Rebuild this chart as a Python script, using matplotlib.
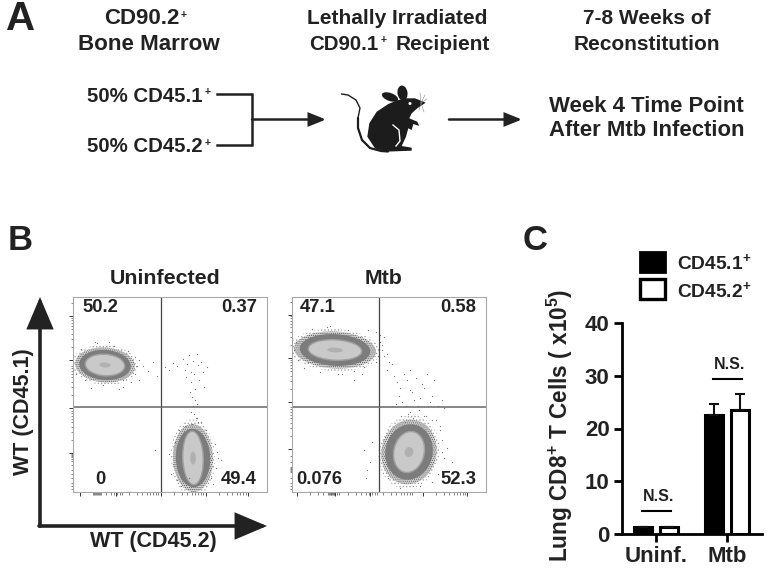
import matplotlib
matplotlib.use("Agg")
import matplotlib.pyplot as plt
from matplotlib.patches import Ellipse, Polygon, Rectangle

plt.rcParams['font.family'] = ['Liberation Sans', 'DejaVu Sans']
plt.rcParams['font.weight'] = 'bold'
plt.rcParams['mathtext.fontset'] = 'custom'
plt.rcParams['mathtext.bf'] = 'Liberation Sans:bold'
plt.rcParams['mathtext.rm'] = 'Liberation Sans:bold'
plt.rcParams['mathtext.default'] = 'bf'
plt.rcParams['hatch.linewidth'] = 0.5

W, H = 768, 568
INK = "#222222"

# panel C values
groups = ["Uninf.", "Mtb"]
cd451_mean = [1.4, 22.5]
cd452_mean = [1.4, 23.6]
cd451_err = [0.0, 2.1]
cd452_err = [0.0, 3.0]
ns_height = [4.4, 29.4]
y_ticks = [0, 10, 20, 30, 40]

# panel B populations: centre, fuzz size, core size, tilt (gate units)
uninf_cx = [32, 120]
uninf_cy = [127, 34]
uninf_w = [60, 40]
uninf_h = [35, 68]
uninf_core_w = [38, 19]
uninf_core_h = [20, 52]
uninf_tilt = [-4, 2]

mtb_cx = [43, 117]
mtb_cy = [142, 40]
mtb_w = [82, 55]
mtb_h = [37, 65]
mtb_core_w = [52, 29]
mtb_core_h = [19, 40]
mtb_tilt = [-3, -12]

uninf_gate = (88, 85)
mtb_gate = (87, 85)
uninf_labels = ["50.2", "0.37", "0", "49.4"]
mtb_labels = ["47.1", "0.58", "0.076", "52.3"]

# axis ticks of the two dot plots
uninf_major_x = [7, 43, 88, 133, 175]
uninf_major_y = [39, 84, 132, 176]
mtb_major_x = [5, 43, 78, 131, 175]
mtb_major_y = [43, 90, 134, 177]
uninf_cluster_x = [21, 22, 23, 24, 25, 26, 27]
uninf_cluster_y = [3, 6, 9, 14, 18, 22, 27, 31, 33, 35, 36, 37, 38]
mtb_cluster_x = [37, 38, 39, 40, 41, 42]
mtb_cluster_y = [3, 6, 9, 14, 20, 21, 22, 23, 24, 25, 30, 36]
minor_step = [13, 21, 26, 31, 34, 37, 40, 42]

# stray events
uninf_dots_x = [100, 104, 110, 112, 114, 116, 118, 118, 120, 121, 122, 124, 125, 126, 128, 130, 131, 134, 113, 117,
                119, 122, 124, 120, 118, 121, 123, 70, 75, 80, 84, 92, 96, 66, 62, 58, 41, 50, 18, 22, 30, 46, 125, 119, 144, 148, 82, 116,
                0, 3, 5, 62, 66, 64, 8, 12, 55, 50, 36, 24, 96, 100, 98, 142, 143, 145, 138, 140, 102, 104, 108, 106, 128, 133, 112, 124]
uninf_dots_y = [129, 126, 133, 122, 128, 137, 120, 110, 131, 118, 103, 138, 127, 112, 130, 120, 105, 125, 115, 100,
                95, 92, 88, 86, 80, 78, 74, 126, 121, 130, 116, 125, 122, 112, 135, 110, 146, 105, 104, 150, 107, 103, 70, 68, 40, 32, 42, 14,
                128, 118, 136, 118, 132, 126, 143, 112, 141, 112, 150, 149, 38, 28, 18, 48, 24, 34, 14, 8, 50, 12, 6, 62, 70, 62, 66, 74]
mtb_dots_x = [88, 90, 92, 95, 97, 100, 95, 102, 105, 108, 107, 112, 115, 118, 120, 124, 128, 130, 135, 140, 142, 146, 150, 152,
              110, 114, 116, 118, 122, 126, 132, 138, 104, 109, 113, 121, 127, 134, 144, 148, 78, 75, 72, 74, 80, 155, 160, 70, 62, 50, 35,
              2, 4, 6, 88, 90, 84, 92, 86, 12, 28, 46, 62, 72, 20, 38, 56, 84, 76, 150, 152, 146, 148, 140, 96, 108, 128, 140, 132, 118, 150]
mtb_dots_y = [150, 142, 136, 138, 130, 128, 122, 116, 110, 104, 96, 118, 112, 122, 100, 114, 94, 108, 118, 96, 112, 86, 92, 84,
              90, 86, 78, 102, 92, 86, 104, 90, 88, 76, 70, 74, 82, 76, 72, 66, 30, 22, 42, 14, 50, 44, 30, 118, 112, 118, 165,
              142, 150, 132, 157, 147, 160, 155, 136, 124, 120, 118, 121, 125, 163, 166, 162, 130, 162, 52, 34, 18, 62, 10, 14, 4, 6, 72, 76, 80, 40]

# mouse outline for panel A, in figure pixels
mouse_x = [425.7, 417.3, 411.7, 409.3, 417.3, 419.3, 413.3, 411.7, 408.3, 406, 401.7, 411.7, 411.7, 385, 375, 367.3, 369.3, 376.7, 388.3, 398.3, 406.7, 415]
mouse_y = [102.7, 108.3, 113.3, 118.3, 121.7, 126, 124, 130, 128.3, 136.7, 146, 147.7, 150.7, 151.7, 148.3, 136.7, 123.3, 111.7, 104, 100, 98.3, 98.3]
tail_x = [341.7, 348, 356, 360, 358, 358, 362, 370, 381, 388]
tail_y = [94, 95, 100, 108, 118, 128, 140, 148, 151, 151.5]

fig = plt.figure(figsize=(W / 100, H / 100), dpi=100)


def axes_px(left, top, right, bottom):
    return fig.add_axes([left / W, 1 - bottom / H, (right - left) / W, (bottom - top) / H])


ov = axes_px(0, 0, W, H)
ov.set_xlim(0, W)
ov.set_ylim(H, 0)
ov.axis("off")


def arrow(start, tip, lw, length, half):
    ov.annotate("", xy=tip, xytext=start, color=INK,
                arrowprops=dict(arrowstyle=f"-|>,head_length={length},head_width={half}", lw=lw, color=INK,
                                mutation_scale=1, shrinkA=0, shrinkB=0, joinstyle="miter"))


# panel letters
ov.text(20.5, 19.5, "A", fontsize=29, color=INK, ha="center", va="center")
ov.text(20, 241, "B", fontsize=25, color=INK, ha="center", va="center")
ov.text(535, 241, "C", fontsize=25, color=INK, ha="center", va="center")

# panel A text
for x, y, s, size in [(141.5, 19, "CD90.2", 16), (149, 44, "Bone Marrow", 16.1), (397.5, 19, "Lethally Irradiated", 15),
                      (646.5, 19, "7-8 Weeks of", 15), (646.5, 44, "Reconstitution", 15), (646.5, 106, "Week 4 Time Point", 15.9),
                      (646.5, 130, "After Mtb Infection", 15.9), (144.5, 97, "50% CD45.1", 14.7), (144.5, 147, "50% CD45.2", 14.7),
                      (343.5, 44, "CD90.1", 14.7), (442.5, 44, "Recipient", 15)]:
    ov.text(x, y, s, fontsize=size, color=INK, ha="center", va="center")
for x, y in [(183.5, 15), (383.5, 39.5), (208, 92), (208, 143)]:
    ov.text(x, y, "+", fontsize=7.5, color=INK, ha="center", va="center")

ov.plot([217, 252, 252, 217], [94, 94, 145, 145], color=INK, lw=1.8, solid_joinstyle="miter")
arrow((252, 119.5), (326, 119.5), 1.8, 10, 4)
arrow((449, 119.5), (522, 119.5), 1.8, 10, 4)

# mouse
ov.add_patch(Polygon(list(zip(mouse_x, mouse_y)), closed=True, color="#1c1c1c", lw=0))
ov.add_patch(Ellipse((402.5, 93), 10, 15, angle=-8, color="#1c1c1c", lw=0))
ov.add_patch(Ellipse((390, 97), 17, 8, angle=20, color="#1c1c1c", lw=0))
ov.plot(tail_x[:5], tail_y[:5], color="#1c1c1c", lw=1)
ov.plot(tail_x[4:], tail_y[4:], color="#1c1c1c", lw=1.6, solid_capstyle="round")
ov.plot([393, 399, 400, 396], [125, 130, 141, 146], color="white", lw=1)
ov.add_patch(Ellipse((410, 103.5), 3, 3, color="white", lw=0))
for wx, wy in [(420, 93), (425, 95), (427, 99), (424, 112), (419, 110)]:
    ov.plot([421, wx], [103, wy], color="#888888", lw=0.4)

# panel B axis arrows and labels
arrow((40, 526), (40, 297), 2.6, 26 * 0.72, 11 * 0.72)
arrow((39, 526), (267, 526), 2.6, 26 * 0.72, 11 * 0.72)
ov.text(23, 412, "WT (CD45.1)", fontsize=15.5, color=INK, rotation=90, ha="center", va="center")
ov.text(153, 542, "WT (CD45.2)", fontsize=15.5, color=INK, ha="center", va="center")
ov.text(165, 279, "Uninfected", fontsize=15.4, color=INK, ha="center", va="center")
ov.text(384, 279, "Mtb", fontsize=15.4, color=INK, ha="center", va="center")


def flow_panel(box, gate, cx, cy, w, h, core_w, core_h, tilt, dots_x, dots_y, major_x, major_y, cluster_x, cluster_y):
    ax = axes_px(*box)
    ax.set_xlim(0, box[2] - box[0])
    ax.set_ylim(0, box[3] - box[1])
    ax.patch.set_alpha(0)
    for spine in ax.spines.values():
        spine.set_color("#a8a8a8")
        spine.set_linewidth(0.8)
    ax.set_xticks(major_x)
    ax.set_yticks(major_y)
    ax.set_xticks(cluster_x + [m + d for m in major_x[:-1] for d in minor_step if m + d < 194], minor=True)
    ax.set_yticks(cluster_y + [m + d for m in major_y for d in minor_step if m + d < 195], minor=True)
    ax.set_xticklabels([])
    ax.set_yticklabels([])
    ax.tick_params(which="major", length=3, width=0.7, color="#333333")
    ax.tick_params(which="minor", length=1.8, width=0.5, color="#555555")
    for i in range(len(cx)):
        xy = (cx[i], cy[i])
        ax.add_patch(Ellipse(xy, w[i] * 1.1, h[i] * 1.14, angle=tilt[i], facecolor="none", edgecolor="#9a9a9a", hatch=".....", lw=0))
        ax.add_patch(Ellipse(xy, w[i], h[i], angle=tilt[i], facecolor="#d0d0d0", edgecolor="#5a5a5a", hatch="........", lw=0))
        ax.add_patch(Ellipse(xy, w[i] * 0.86, h[i] * 0.86, angle=tilt[i], facecolor="#7c7c7c", lw=0))
        ax.add_patch(Ellipse(xy, core_w[i] + 3, core_h[i] + 3, angle=tilt[i], facecolor="#a0a0a0", lw=0))
        ax.add_patch(Ellipse(xy, core_w[i], core_h[i], angle=tilt[i], facecolor="#c9c9c9", lw=0))
        ax.add_patch(Ellipse(xy, core_w[i] * 0.3, core_h[i] * 0.25, angle=tilt[i], facecolor="#b0b0b0", lw=0))
    ax.scatter(dots_x, dots_y, s=0.8, color="#707070", lw=0)
    ax.axvline(gate[0], color="#444444", lw=0.9)
    ax.axhline(gate[1], color="#666666", lw=1.1)
    return ax


ax1 = flow_panel((73, 297, 267, 492), uninf_gate, uninf_cx, uninf_cy, uninf_w, uninf_h, uninf_core_w, uninf_core_h,
                 uninf_tilt, uninf_dots_x, uninf_dots_y, uninf_major_x, uninf_major_y, uninf_cluster_x, uninf_cluster_y)
ax2 = flow_panel((292, 297, 486, 492), mtb_gate, mtb_cx, mtb_cy, mtb_w, mtb_h, mtb_core_w, mtb_core_h,
                 mtb_tilt, mtb_dots_x, mtb_dots_y, mtb_major_x, mtb_major_y, mtb_cluster_x, mtb_cluster_y)
for ax, labels, spots in [(ax1, uninf_labels, [(27, 184), (166, 184), (27, 12), (166, 12)]),
                          (ax2, mtb_labels, [(26, 184), (166, 184), (27, 12), (166, 12)])]:
    for s, (x, y) in zip(labels, spots):
        ax.text(x, y, s, fontsize=13.3, color=INK, ha="center", va="center")

# panel C bars
bx = axes_px(622, 323, 762, 534)
bx.patch.set_alpha(0)
pos = list(range(len(groups)))
bx.bar([p - 0.185 for p in pos], cd451_mean, 0.255, color="black", edgecolor="black", lw=2.2,
       yerr=[[0, 0], cd451_err], ecolor="#111111", error_kw=dict(lw=1.5, capsize=3.6, capthick=1.5))
bx.bar([p + 0.185 for p in pos], cd452_mean, 0.255, color="white", edgecolor="black", lw=2.2,
       yerr=[[0, 0], cd452_err], ecolor="#111111", error_kw=dict(lw=1.5, capsize=3.6, capthick=1.5))
bx.set_xlim(-0.479, 1.493)
bx.set_ylim(0, 40)
bx.set_xticks(pos)
bx.set_xticklabels(groups, fontsize=16, color=INK)
bx.set_yticks(y_ticks)
bx.set_yticklabels(y_ticks, fontsize=16, color=INK)
bx.tick_params(length=6, width=2, pad=3)
for side in ["top", "right"]:
    bx.spines[side].set_visible(False)
for side in ["left", "bottom"]:
    bx.spines[side].set_linewidth(2)
for p, h in zip(pos, ns_height):
    bx.plot([p - 0.2, p + 0.21], [h, h], color="black", lw=1.5, clip_on=False)
    bx.text(p + 0.03, h + 2.7, "N.S.", fontsize=11.5, color=INK, ha="center", va="center")
ov.text(560, 425, r"Lung CD8$^{+}$ T Cells ( x10$^{5}$)", fontsize=16.3, color=INK, rotation=90, ha="center", va="center")

# panel C legend
ov.add_patch(Rectangle((640, 252), 25, 20, facecolor="black", edgecolor="black", lw=2))
ov.add_patch(Rectangle((640, 279), 25, 20, facecolor="white", edgecolor="black", lw=2.4))
ov.text(677, 263, r"CD45.1$^{+}$", fontsize=13.8, color=INK, ha="left", va="center")
ov.text(677, 291, r"CD45.2$^{+}$", fontsize=13.8, color=INK, ha="left", va="center")

fig.savefig("out.png", dpi=100)
